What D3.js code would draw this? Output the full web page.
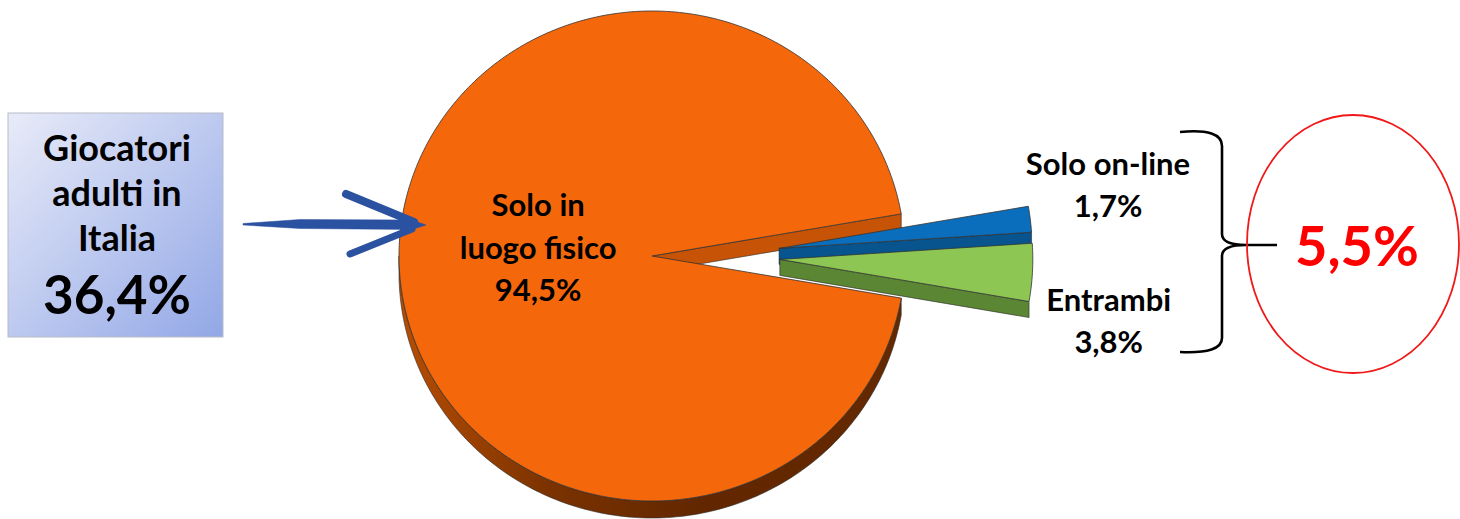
<!DOCTYPE html>
<html>
<head>
<meta charset="utf-8">
<script src="https://cdn.jsdelivr.net/npm/d3@7"></script>
<style>
  html, body { margin: 0; padding: 0; background: #ffffff; }
  svg { display: block; }
  text { font-family: Lato, "Open Sans", "DejaVu Sans", sans-serif; font-weight: 700; }
</style>
</head>
<body>
<svg id="chart" width="1460" height="519"></svg>
<script>
// ---------------- data ----------------
const categories = ["Solo in luogo fisico", "Solo on-line", "Entrambi"];
const labelLines = [["Solo in", "luogo fisico"], ["Solo on-line"], ["Entrambi"]];
const values = [94.5, 1.7, 3.8];
const exploded = [false, true, true];
const boxLines = ["Giocatori", "adulti in", "Italia"];
const boxValue = 36.4;

// ---------------- style ----------------
const topColors  = ["#F4670A", "#0A6EBD", "#8DC652"];
const wallColors = ["#C65306", "#08548E", "#5B8633"];
const fmt = v => d3.format(".1f")(v).replace(".", ",") + "%";

const svg = d3.select("#chart");
const defs = svg.append("defs");

// geometry of the 3D pie
const cx = 652, cy = 256, rx = 253, ry = 245, depth = 16;
const explodeDist = 128, explodeVy = 0.5;

const otherFrac = (values[1] + values[2]) / d3.sum(values);
const pie = d3.pie().sort(null).value(d => d)
  .startAngle(Math.PI / 2 + otherFrac * Math.PI)
  .endAngle(Math.PI / 2 + otherFrac * Math.PI + 2 * Math.PI);
const arcs = pie(values);

// scales mapping unit circle to the projected ellipse
const sx = d3.scaleLinear().domain([-1, 1]).range([-rx, rx]);
const sy = d3.scaleLinear().domain([-1, 1]).range([-ry, ry]);

function proj(a, r, o, dz) {
  return [o[0] + sx(r * Math.sin(a)), o[1] - sy(r * Math.cos(a)) + (dz || 0)];
}
function arcPts(a0, a1, o, dz) {
  const n = Math.max(2, Math.ceil(Math.abs(a1 - a0) / (Math.PI / 180)));
  return d3.range(n + 1).map(i => proj(a0 + (a1 - a0) * i / n, 1, o, dz));
}
const line = d3.line();

// wall gradient (orange)
const g0 = defs.append("linearGradient").attr("id", "wall0")
  .attr("gradientUnits", "userSpaceOnUse")
  .attr("x1", cx - rx).attr("x2", cx + rx).attr("y1", 0).attr("y2", 0);
g0.append("stop").attr("offset", "0%").attr("stop-color", "#B84D02");
g0.append("stop").attr("offset", "30%").attr("stop-color", "#7A3200");
g0.append("stop").attr("offset", "60%").attr("stop-color", "#622700");
g0.append("stop").attr("offset", "100%").attr("stop-color", "#642900");

const pieG = svg.append("g");
arcs.forEach((d, i) => {
  const mid = (d.startAngle + d.endAngle) / 2;
  const o = exploded[i]
    ? [cx + explodeDist * Math.sin(mid), cy - explodeDist * Math.cos(mid) * explodeVy]
    : [cx, cy];
  d.origin = o;
  const g = pieG.append("g");
  const wallFill = i === 0 ? "url(#wall0)" : wallColors[i];
  // radial cut walls
  [[d.startAngle, "start"], [d.endAngle, "end"]].forEach(([a, kind]) => {
    const visible = kind === "start" ? Math.sin(a) < 0 : Math.sin(a) > 0;
    if (!visible) return;
    const p1 = proj(a, 1, o), p0 = [o[0], o[1]];
    const pts = [p0, p1, [p1[0], p1[1] + depth], [p0[0], p0[1] + depth]];
    g.append("path").attr("d", line(pts) + "Z")
      .attr("fill", wallColors[i]).attr("stroke", "#2a2a2a").attr("stroke-width", 0.6);
  });
  // outer wall (visible where cos(a) < 0)
  const lo = Math.max(d.startAngle, Math.PI / 2);
  const hi = Math.min(d.endAngle, 3 * Math.PI / 2);
  if (hi > lo) {
    const topPts = arcPts(lo, hi, o, 0);
    const botPts = arcPts(hi, lo, o, depth + (i === 0 ? 1 : 0));
    g.append("path").attr("d", line(topPts.concat(botPts)) + "Z")
      .attr("fill", wallFill).attr("stroke", "#2a2a2a").attr("stroke-width", 0.6);
  }
  // top face
  const face = [[o[0], o[1]]].concat(arcPts(d.startAngle, d.endAngle, o, 0));
  g.append("path").attr("d", line(face) + "Z")
    .attr("fill", topColors[i]).attr("stroke", "#333").attr("stroke-width", 0.8)
    .attr("stroke-linejoin", "round");
});

// ---------------- pie labels ----------------
const lblG = svg.append("g").attr("fill", "#000").attr("font-size", 31).attr("text-anchor", "middle");
{
  const d = arcs[0];
  const mid = (d.startAngle + d.endAngle) / 2;
  const p = proj(mid, 0.45, d.origin);
  const lines = labelLines[0].concat([fmt(values[0])]);
  const t = lblG.append("text").attr("x", p[0]).attr("y", p[1] - 40);
  lines.forEach((s, k) => t.append("tspan").attr("x", p[0]).attr("dy", k === 0 ? 0 : 42.5).text(s));
}
// outside labels for exploded slices
const outOffsets = [null, [1.3, -73], [1.3, 52]];
[1, 2].forEach(i => {
  const d = arcs[i];
  const x = d.origin[0] + sx(outOffsets[i][0]);
  const y = d.origin[1] + outOffsets[i][1];
  const t = lblG.append("text").attr("x", x).attr("y", y);
  const lines = labelLines[i].concat([fmt(values[i])]);
  lines.forEach((s, k) => t.append("tspan").attr("x", x).attr("dy", k === 0 ? 0 : 42).text(s));
});

// ---------------- left box ----------------
const bg = defs.append("linearGradient").attr("id", "boxg")
  .attr("x1", "0%").attr("y1", "0%").attr("x2", "100%").attr("y2", "100%");
bg.append("stop").attr("offset", "0%").attr("stop-color", "#E8EBF8");
bg.append("stop").attr("offset", "100%").attr("stop-color", "#92A7E6");
svg.append("rect").attr("x", 8).attr("y", 113).attr("width", 215).attr("height", 224)
  .attr("fill", "url(#boxg)").attr("stroke", "#B8BCC8").attr("stroke-width", 1);
const bt = svg.append("g").attr("text-anchor", "middle").attr("fill", "#000");
boxLines.forEach((s, k) => {
  bt.append("text").attr("x", 117).attr("y", 161 + k * 45).attr("font-size", 36).text(s);
});
bt.append("text").attr("x", 117).attr("y", 314).attr("font-size", 53).text(fmt(boxValue));

// ---------------- arrow ----------------
const arrowG = svg.append("g").attr("fill", "#2B51A1").attr("stroke", "#2B51A1");
arrowG.append("path")
  .attr("d", "M243,223.5 L300,219.5 L412,220 L426,225 L412,229.5 L300,228.5 L243,225 Z")
  .attr("stroke-width", 0.5);
arrowG.append("path").attr("d", "M346,194 L414,222").attr("fill", "none")
  .attr("stroke-width", 8).attr("stroke-linecap", "round");
arrowG.append("path").attr("d", "M350,254 L412,229").attr("fill", "none")
  .attr("stroke-width", 7).attr("stroke-linecap", "round");

// ---------------- brace & circle ----------------
svg.append("path")
  .attr("d", "M1180,132 Q1222,128 1222,146 L1222,234 Q1222,245 1246,245 Q1222,245 1222,256 L1222,338 Q1222,354 1180,352 M1246,245 L1277,245")
  .attr("fill", "none").attr("stroke", "#000").attr("stroke-width", 2.6);
svg.append("ellipse").attr("cx", 1353).attr("cy", 244).attr("rx", 106).attr("ry", 129)
  .attr("fill", "none").attr("stroke", "#F01818").attr("stroke-width", 1.8);
svg.append("text").attr("x", 1357).attr("y", 266).attr("text-anchor", "middle")
  .attr("font-size", 56).attr("fill", "#FF0000").text(fmt(values[1] + values[2]));
</script>
</body>
</html>
